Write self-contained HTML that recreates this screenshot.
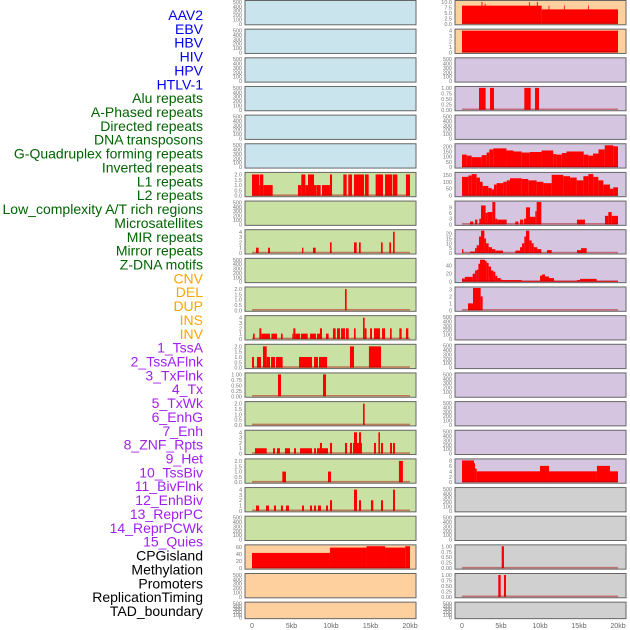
<!DOCTYPE html>
<html><head><meta charset="utf-8">
<style>
html,body{margin:0;padding:0;background:#fff;width:630px;height:630px;overflow:hidden}
svg{display:block}
</style></head>
<body>
<svg id="chart" width="630" height="630" xmlns="http://www.w3.org/2000/svg" font-family="Liberation Sans, sans-serif"></svg>
<script>
// ---- data ----
const trackLabels = ["AAV2","EBV","HBV","HIV","HPV","HTLV-1","Alu repeats","A-Phased repeats","Directed repeats","DNA transposons","G-Quadruplex forming repeats","Inverted repeats","L1 repeats","L2 repeats","Low_complexity A/T rich regions","Microsatellites","MIR repeats","Mirror repeats","Z-DNA motifs","CNV","DEL","DUP","INS","INV","1_TssA","2_TssAFlnk","3_TxFlnk","4_Tx","5_TxWk","6_EnhG","7_Enh","8_ZNF_Rpts","9_Het","10_TssBiv","11_BivFlnk","12_EnhBiv","13_ReprPC","14_ReprPCWk","15_Quies","CPGisland","Methylation","Promoters","ReplicationTiming","TAD_boundary"];
const labelColors = ["#0000ee","#0000ee","#0000ee","#0000ee","#0000ee","#0000ee","#006400","#006400","#006400","#006400","#006400","#006400","#006400","#006400","#006400","#006400","#006400","#006400","#006400","#ffa500","#ffa500","#ffa500","#ffa500","#ffa500","#a020f0","#a020f0","#a020f0","#a020f0","#a020f0","#a020f0","#a020f0","#a020f0","#a020f0","#a020f0","#a020f0","#a020f0","#a020f0","#a020f0","#a020f0","#000","#000","#000","#000","#000"];
const xTicks = [0,5,10,15,20];
const xTickLabels = ["0","5kb","10kb","15kb","20kb"];

const emptyTicks = ["0","100","200","300","400","500"];
const leftBg = ["b","b","b","b","b","b","g","g","g","g","g","g","g","g","g","g","g","g","g","o","o","o"];
const rightBg = ["o","o","p","p","p","p","p","p","p","p","p","p","p","p","p","p","p","x","x","x","x","x"];
const leftMax = [510,510,510,510,510,510,2.1,510,4.2,510,2.1,4.2,2.1,1.02,2.1,4.2,2.1,4.2,510,63,510,510];
const rightMax = [10.2,4.1,510,1.02,510,215,160,11.8,23,56,3.2,510,510,510,510,510,8.2,510,510,1.02,1.02,510];
const leftTicks = [null,null,null,null,null,null,["0.0","0.5","1.0","1.5","2.0"],null,["0","1","2","3","4"],null,["0.0","0.5","1.0","1.5","2.0"],["0","1","2","3","4"],["0.0","0.5","1.0","1.5","2.0"],["0.00","0.25","0.50","0.75","1.00"],["0.0","0.5","1.0","1.5","2.0"],["0","1","2","3","4"],["0.0","0.5","1.0","1.5","2.0"],["0","1","2","3","4"],null,["0","20","40","60"],null,null];
const rightTicks = [["0.0","2.5","5.0","7.5","10.0"],["0","1","2","3","4"],null,["0.00","0.25","0.50","0.75","1.00"],null,["0","50","100","150","200"],["0","50","100","150"],["0","3","6","9"],["0","5","10","15","20"],["0","20","40"],["0","1","2","3"],null,null,null,null,null,["0","2","4","6","8"],null,null,["0.00","0.25","0.50","0.75","1.00"],["0.00","0.25","0.50","0.75","1.00"],null];

// segments: [startKb, endKb, value]
const L6 = [[0,0.93,2],[0.93,1.01,1],[1.01,1.43,2],[1.43,2.62,1],[5.82,6.24,1],[6.24,6.75,2],[6.75,7.09,1],[7.09,7.85,2],[7.85,8.19,1],[8.22,8.69,1],[8.86,9.87,1],[9.87,10.13,2],[11.56,11.98,2],[12.19,12.66,2],[12.91,14.18,2],[14.3,14.77,2],[15.65,16.58,2],[16.84,17.72,2],[17.81,18.4,2],[19.49,20,2]];
const L8 = [[0.51,0.84,1],[2.03,2.28,1],[6.33,6.5,1],[7.72,8.06,1],[9.87,10.08,2],[12.91,13.25,2],[13.54,13.76,2],[16.33,16.54,2],[17.38,17.6,2],[17.85,18.06,4]];
const L10 = [[11.77,11.98,2]];
const L11 = [[0.13,0.34,1],[0.93,1.18,2],[1.18,2.28,1],[2.45,3.16,1],[3.67,3.88,1],[5.11,5.23,1],[5.23,5.49,2],[5.49,6.08,1],[6.2,7.05,1],[7.34,8.1,1],[8.23,8.6,1],[8.6,8.86,2],[9.37,9.7,1],[10.25,10.59,2],[10.76,11.14,2],[11.27,11.77,2],[11.9,12.24,2],[12.91,13.12,2],[14.05,14.26,4],[14.26,14.5,2],[14.94,15.19,2],[15.44,16.2,2],[16.46,16.84,2],[17.47,17.68,2],[18.65,18.94,2],[19.49,19.79,2]];
const L12 = [[0,0.25,1],[0.63,1.14,1],[1.39,1.86,2],[1.86,2.28,1],[2.41,2.91,1],[3.04,3.88,1],[5.95,7.6,1],[7.85,8.35,1],[8.48,9.5,1],[12.4,12.91,2],[14.8,16.33,2]];
const L13 = [[3.29,3.67,1],[8.99,9.37,1]];
const L14 = [[14.05,14.26,2]];
const L15 = [[0.38,1.01,1],[1.01,1.86,1],[2.66,2.91,1],[3.16,3.54,1],[4.17,4.81,1],[5.32,5.57,1],[6.08,7.6,1],[7.85,8.1,1],[8.23,8.6,1],[8.6,8.86,2],[8.86,9.62,1],[9.87,10.13,2],[11.77,12.03,2],[12.4,12.66,2],[12.79,12.91,2],[12.91,13.29,4],[13.29,13.54,2],[13.54,13.8,4],[13.8,13.92,2],[15.44,15.69,2],[16.0,16.2,4],[16.33,16.58,2],[17.47,17.72,2],[17.85,18.1,2]];
const L16 = [[3.84,4.3,1],[9.62,10.0,1],[18.6,19.1,2]];
const L17 = [[0.51,0.89,1],[1.77,2.15,1],[2.78,3.04,1],[3.67,3.92,1],[4.3,4.68,1],[6.33,6.58,1],[7.34,7.6,1],[7.85,8.1,1],[8.35,8.73,1],[9.37,9.62,1],[9.87,10.13,2],[12.91,13.29,4],[13.54,13.8,2],[15.06,15.35,2],[16.33,16.58,2],[17.85,18.1,4]];
const L19 = [[0,9.87,43],[9.87,14.5,58],[14.5,16.84,62],[16.84,19.4,58],[19.4,20,62]];

const R0 = [[0,10.21,8.3],[10.21,20,6.6],[2.5,2.62,10],[2.92,3.02,9.2],[8.58,8.68,10],[9.6,9.72,10],[11.1,11.2,8.3],[13.07,13.17,8.3],[16.15,16.25,8.3]];
const R1 = [[0,20,4]];
const R3 = [[2.18,3.03,1],[3.59,4.1,1],[7.99,8.8,1],[9.36,9.87,1]];
const R5 = [[0,0.6,120],[0.6,1.24,110],[1.24,2.52,95],[2.52,3.16,115],[3.16,3.5,140],[3.5,4.0,170],[4.0,5.7,180],[5.7,6.6,160],[6.6,7.65,150],[7.65,8.7,140],[8.7,10.2,145],[10.2,11.7,160],[11.7,12.1,125],[12.1,12.8,120],[12.8,13.4,135],[13.4,15.6,150],[15.6,16.2,120],[16.2,16.8,110],[16.8,17.5,130],[17.5,18.3,170],[18.3,19.4,210],[19.4,20,200]];
const R6 = [[0,0.81,135],[0.81,1.24,145],[1.24,1.88,155],[1.88,2.3,130],[2.3,2.65,100],[2.65,3.38,70],[3.38,3.8,55],[3.8,4.1,45],[4.1,4.44,80],[4.44,5.3,90],[5.3,5.73,100],[5.73,6.15,110],[6.15,7.65,125],[7.65,8.5,120],[8.5,9.57,110],[9.57,10.43,100],[10.43,11.5,90],[11.5,12.99,150],[12.99,13.85,140],[13.85,14.7,130],[14.7,15.56,110],[15.56,16.2,140],[16.2,16.84,155],[16.84,17.48,135],[17.48,18.12,110],[18.12,18.97,80],[18.97,19.4,50],[19.4,20,60]];
const R7 = [[1.03,1.45,1.5],[1.67,1.97,2.5],[2.22,2.44,3],[2.44,3.03,10],[3.03,3.25,6],[3.25,3.89,6.5],[3.89,4.27,12],[4.27,4.53,3],[4.53,5.73,2.5],[6.84,7.22,1.5],[7.44,7.86,2.5],[7.95,8.2,3],[8.2,8.72,9],[8.72,9.4,4],[9.4,9.57,7],[9.57,10.17,12],[14.74,15.77,2.5],[18.33,18.76,4.5],[18.76,19.19,6.5],[19.19,20,4.5]];
const R8 = [[0,0.17,4],[1.03,1.67,1.5],[1.67,1.88,5],[1.88,2.18,8],[2.18,2.44,17],[2.44,2.87,23],[2.87,3.08,15],[3.08,3.42,10],[3.42,3.85,6],[3.85,4.27,4],[4.27,5.26,2.5],[6.84,7.44,2.5],[7.44,7.69,6],[7.69,7.99,10],[7.99,8.2,17],[8.2,8.63,23],[8.63,8.93,13],[8.93,9.19,10],[9.19,9.66,6],[9.66,10.17,4],[10.9,11.5,3],[14.74,15.26,3],[15.26,15.98,5]];
const R9 = [[0,0.38,8],[0.38,1.37,12],[1.37,1.67,20],[1.67,1.88,28],[1.88,2.1,30],[2.1,2.31,45],[2.31,2.95,55],[2.95,3.16,52],[3.16,3.42,47],[3.42,3.72,38],[3.72,4.02,28],[4.02,4.27,25],[4.27,4.53,15],[4.53,4.96,9],[4.96,5.21,5],[5.21,7.65,4],[7.65,10.0,2],[10.0,10.26,15],[10.26,10.64,18],[10.64,11.15,13],[11.15,11.79,9],[11.79,14.74,2],[14.74,15.13,4],[15.13,17.26,7],[17.26,20,2]];
const R10 = [[0.77,1.41,1],[1.41,2.39,3.2],[2.39,2.65,2]];
const R16 = [[0,1.54,8],[1.54,1.67,7],[1.67,1.88,5],[1.88,10.0,4],[10.0,11.15,6],[11.15,17.3,4],[17.3,18.97,6],[18.97,20,4]];
const R19 = [[5.09,5.38,1]];
const R20 = [[4.65,4.96,1],[5.38,5.64,1]];

const leftData = [null,null,null,null,null,null,L6,null,L8,null,L10,L11,L12,L13,L14,L15,L16,L17,null,L19,null,null];
const rightData = [R0,R1,null,R3,null,R5,R6,R7,R8,R9,R10,null,null,null,null,null,R16,null,null,R19,R20,null];

// ---- drawing ----
const NS = "http://www.w3.org/2000/svg";
const svg = document.getElementById("chart");
const bgColors = {b:"#c9e4ec", g:"#c9e1a3", o:"#fed09e", p:"#d5c5e1", x:"#d0d0d0"};
function mk(tag, attrs, parent){ const e=document.createElementNS(NS,tag); for(const k in attrs) e.setAttribute(k,attrs[k]); (parent||svg).appendChild(e); return e; }

trackLabels.forEach((t,i)=>{
  const e = mk("text",{x:203,y:20+i*13.86,"text-anchor":"end","font-size":"14",fill:labelColors[i]});
  e.textContent = t;
  
  
});

function rowTop(i){ return 0.5 + i*28.65; }
function rowH(i){ return i===21 ? 16.5 : 24.3; }

function drawColumn(side, bg, maxes, ticks, data){
  const px0 = side==="left" ? 245 : 455;
  const px1 = side==="left" ? 416 : 626;
  const d0 = side==="left" ? 252 : 462;
  const kbw = side==="left" ? 7.9 : 7.8;
  const xs = kb => d0 + kb*kbw;
  for(let i=0;i<22;i++){
    const t = rowTop(i), h = rowH(i);
    const g = mk("g",{});
    
    
    mk("rect",{x:px0,y:t,width:px1-px0,height:h,fill:bgColors[bg[i]],stroke:"#666","stroke-width":1},g);
    const ymax = maxes[i];
    const yb = t+h-1, yt = t+1;
    const ys = v => yb - (v/ymax)*(yb-yt);
    const tl = ticks[i] || emptyTicks;
    tl.forEach(lbl=>{
      const v = parseFloat(lbl);
      const yy = ys(v);
      const e = mk("text",{x:px0-3,y:yy+2,"text-anchor":"end","font-size":"5.5",fill:"#777"},g);
      e.textContent = lbl;
      
      
    });
    const segs = data[i];
    if(segs){
      segs.forEach(s=>{
        const y = ys(Math.min(s[2],ymax));
        const r = mk("rect",{x:xs(s[0]),y:y,width:Math.max(0.8,xs(s[1])-xs(s[0])),height:yb-y,fill:"#ff0000"},g);
        
        
      });
      mk("line",{x1:xs(0),x2:xs(20),y1:yb-0.5,y2:yb-0.5,stroke:"rgba(170,0,0,0.45)","stroke-width":1.6},g);
    }
  }
  xTicks.forEach((k,j)=>{
    const e = mk("text",{x:xs(k),y:628,"text-anchor":"middle","font-size":"7",fill:"#666"});
    e.textContent = xTickLabels[j];
    
    
  });
}
drawColumn("left", leftBg, leftMax, leftTicks, leftData);
drawColumn("right", rightBg, rightMax, rightTicks, rightData);
</script>
</body></html>
